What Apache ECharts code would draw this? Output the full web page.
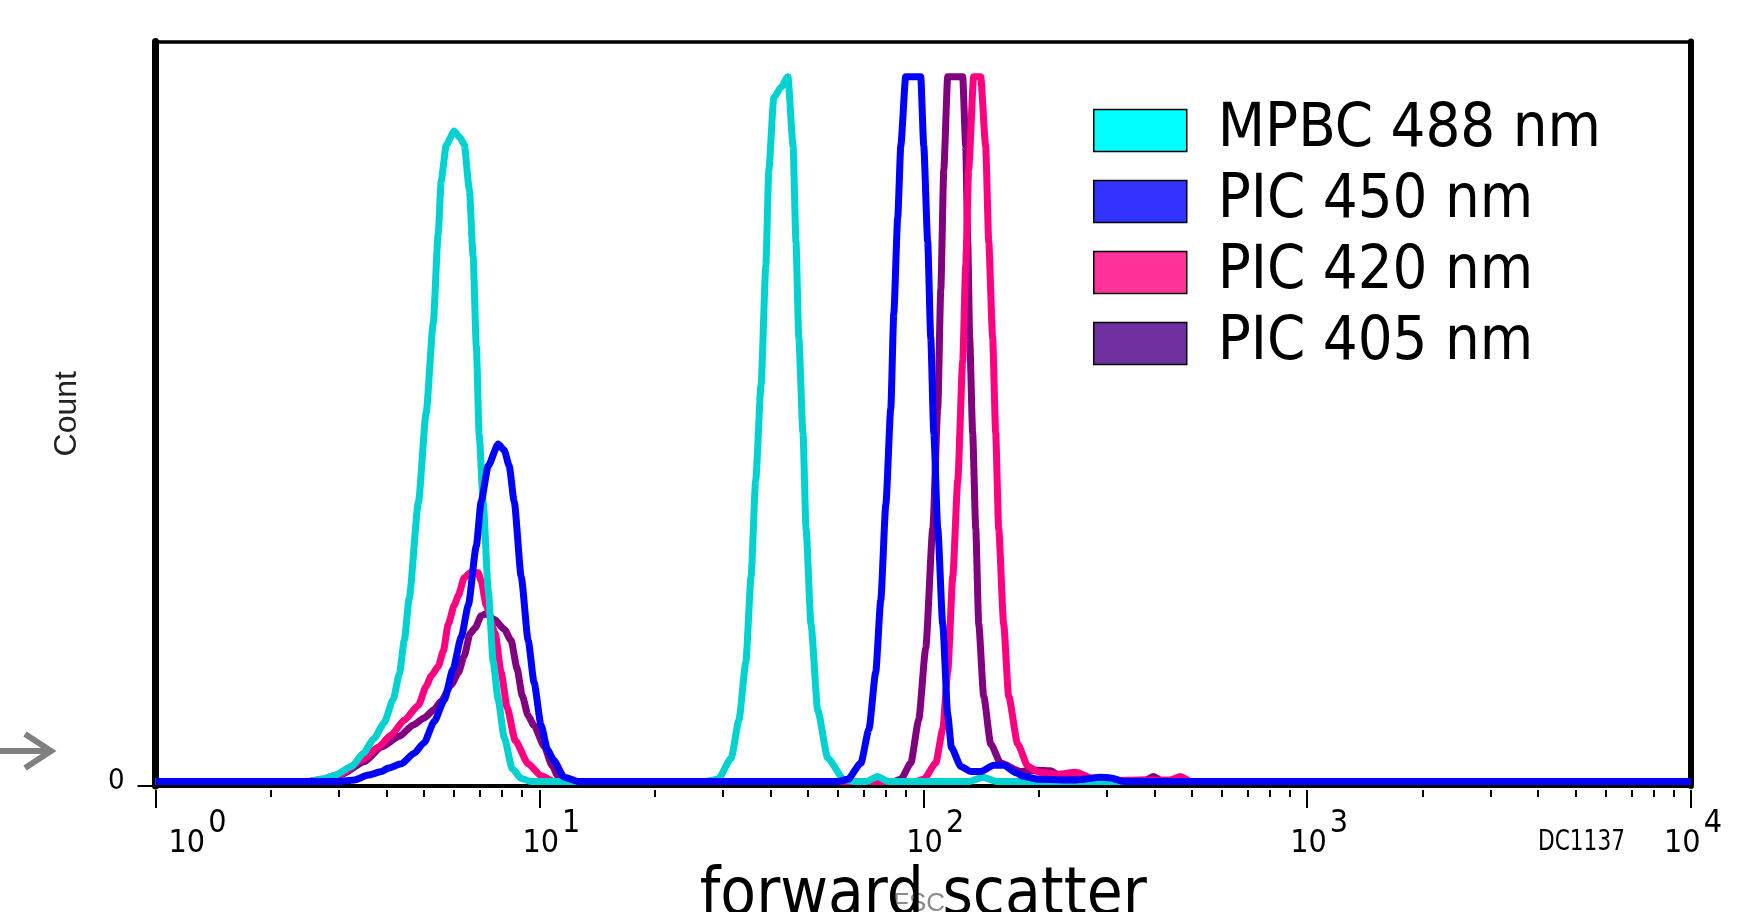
<!DOCTYPE html>
<html>
<head>
<meta charset="utf-8">
<script src="https://cdn.jsdelivr.net/npm/echarts@6/dist/echarts.min.js"></script>
<style>
  html, body { margin: 0; padding: 0; background: #ffffff; }
  #chart { width: 1762px; height: 912px; }
</style>
</head>
<body>
<div id="chart"></div>
<script>
// Forward-scatter histograms: [FSC channel, count] per sample, log FSC scale.
const seriesNames = ['MPBC 488 nm', 'PIC 450 nm', 'PIC 420 nm', 'PIC 405 nm'];
const lineColors = ['#00d2d2', '#0000ff', '#ff0080', '#800080'];
const swatchColors = ['#00ffff', '#3333ff', '#ff3399', '#7030a0'];

const decadeTicks = [1, 10, 100, 1000, 10000];
const minorTicks = [2, 3, 4, 5, 6, 7, 8, 9,
                    20, 30, 40, 50, 60, 70, 80, 90,
                    200, 300, 400, 500, 600, 700, 800, 900,
                    2000, 3000, 4000, 5000, 6000, 7000, 8000, 9000];

const mpbc488 = [
  [1, 0], [2.5, 0], [2.7, 0.3], [2.92, 0.8], [3.24, 2.1], [3.48, 4.0], [3.71, 6.1], [3.94, 8.3],
  [4.16, 11.6], [4.32, 15.3], [4.45, 20.1], [4.58, 26], [4.84, 39.6], [5.07, 52.3], [5.29, 65],
  [5.45, 77.7], [5.55, 85.3], [5.72, 90.3], [6.0, 92.3], [6.2, 91.4], [6.37, 90.4], [6.57, 84],
  [6.72, 74.5], [6.85, 61.8], [6.97, 49.1], [7.14, 39.6], [7.36, 27], [7.58, 17], [7.81, 11.6],
  [8.1, 6.2], [8.5, 1.8], [8.97, 0.4], [9.5, 0],
  [27, 0], [29.2, 0.3], [31.6, 3.3], [33.1, 8.7], [34.5, 16.9], [35.6, 29.1], [36.6, 42.7],
  [37.8, 56.3], [38.9, 73.2], [39.6, 86.8], [40.8, 97], [42.6, 98.5], [44.4, 100], [45.8, 90.2],
  [46.6, 76.6], [47.4, 63], [48.6, 49.5], [49.5, 35.9], [51, 22.3], [53.1, 10.1], [56.4, 3.3],
  [62.1, 0.3], [66, 0], [71, 0], [76, 0.7], [81, 0], [132, 0], [143, 0.6], [155, 0], [10000, 0]
];

const pic450 = [
  [1, 0], [3.0, 0], [3.3, 0.2], [3.58, 0.9], [3.88, 1.4], [4.04, 1.9], [4.37, 2.5], [4.72, 4],
  [5.01, 5.5], [5.32, 8.5], [5.65, 11.5], [5.96, 16], [6.26, 20.5], [6.53, 25], [6.85, 33.4],
  [7.05, 39.7], [7.36, 44.8], [7.81, 47.9], [8.1, 47], [8.34, 44.8], [8.6, 39.7], [8.97, 29],
  [9.35, 20], [9.69, 14], [10.1, 8], [10.5, 4.5], [10.9, 3], [11.6, 0.6], [12.6, 0],
  [60, 0], [63.6, 0.3], [68.8, 2.6], [72.2, 7.4], [75.2, 15.5], [77.5, 25.7], [79.9, 39.3],
  [82.3, 52.9], [83.8, 66.4], [85.8, 80], [87.4, 90.2], [90, 100], [98.5, 100], [100.3, 90.2],
  [102.7, 76.6], [104.6, 63], [106.5, 49.5], [109.1, 35.9], [112.4, 22.3], [115.8, 9.5],
  [118.4, 4.8], [125.3, 2.1], [133, 1.4], [141, 1.4], [152.6, 2.3], [162, 2.3], [175, 1.2],
  [182.6, 0.7], [200, 0.3], [250, 0.2], [290, 0.6], [308, 0.5], [332, 0], [10000, 0]
];

const pic420 = [
  [1, 0], [2.5, 0], [2.7, 0.3], [3.05, 1.1], [3.44, 3], [3.81, 4.9], [4.11, 6.6], [4.45, 8.7],
  [4.84, 10.8], [5.07, 13.5], [5.23, 15], [5.45, 16.3], [5.62, 18.5], [5.79, 22.3], [6.0, 25],
  [6.15, 26.4], [6.37, 28.9], [6.6, 29.6], [6.93, 29.6], [7.05, 28.5], [7.27, 25], [7.67, 21],
  [7.95, 15.5], [8.24, 10.5], [8.65, 5.8], [9.35, 2.5], [10.1, 0.8], [10.9, 0],
  [96, 0], [100.3, 0.3], [107.8, 2.6], [112.4, 7.4], [115.8, 15.5], [119.4, 29.1], [123, 42.7],
  [126.7, 59.6], [129, 73.2], [131.3, 86.8], [135.3, 100], [141.1, 100], [145.4, 90.2],
  [148.1, 76.6], [151.6, 63], [154.4, 49.5], [157.2, 35.9], [162, 22.3], [166.9, 12.1],
  [176.2, 5.3], [187.1, 2.2], [200, 1.3], [225, 1.0], [249.4, 1.3], [277.7, 0.4], [320, 0.1],
  [440, 0.2], [468, 0.7], [497, 0], [10000, 0]
];

const pic405 = [
  [1, 0], [2.5, 0], [2.75, 0.2], [3.05, 1], [3.5, 2.8], [3.88, 4.9], [4.32, 6.4], [4.69, 8],
  [5.01, 9], [5.32, 10.2], [5.55, 11.4], [5.89, 13.7], [6.15, 15.4], [6.37, 17.8], [6.6, 21],
  [6.81, 21.8], [7.05, 23.5], [7.27, 23.8], [7.62, 23], [8.1, 21.6], [8.44, 20], [8.75, 16],
  [9.02, 12.2], [9.35, 9.3], [9.69, 7.9], [10.29, 5], [10.8, 2.2], [11.19, 0.7], [11.6, 0],
  [84, 0], [87.4, 0.3], [92.8, 2.6], [97.3, 8.7], [101.5, 18.9], [105.9, 35.9], [109.1, 52.9],
  [111.1, 69.8], [113.1, 86.8], [115.8, 100], [126.7, 100], [129, 90.2], [130.6, 76.6],
  [132.1, 63], [134.5, 49.5], [137, 35.9], [139.5, 22.3], [143.7, 12.1], [149.9, 5.3],
  [159.1, 2.6], [179.4, 1.4], [198.6, 1.6], [214.7, 1.5], [225, 0.9], [237.7, 0.4], [300, 0.1],
  [380, 0.2], [398, 0.7], [420, 0], [10000, 0]
];

const seriesData = [mpbc488, pic450, pic420, pic405];
// drawing order: violet and pink underneath, cyan and blue on top
const drawOrder = [3, 2, 0, 1];

const FONT_AXIS = '"Liberation Sans", Arial, sans-serif';
const FONT_NARROW = '"Liberation Sans Narrow", "DejaVu Sans Condensed", sans-serif';
const FONT_BIG = '"DejaVu Sans Condensed", "DejaVu Sans", sans-serif';
const X_MIN = 1, X_MAX = 10000;
const Y_MIN = -0.65, Y_MAX = 105;

const chart = echarts.init(document.getElementById('chart'), null, { renderer: 'canvas' });

function decadeLabel(value) {
  const exp = Math.round(Math.log10(value));
  if (exp === 0) return '{b0|10}{s|' + exp + '}';
  if (exp === 4) return '{b|10}{sEnd|' + exp + '}';
  return '{b|10}{s|' + exp + '}';
}

const baseTick = { fontFamily: FONT_NARROW, fontSize: 32, color: '#000', verticalAlign: 'bottom' };
const supTick = { fontFamily: FONT_NARROW, fontSize: 32, color: '#000', verticalAlign: 'top' };

const hiddenLog = {
  type: 'log', logBase: 10, min: X_MIN, max: X_MAX,
  splitLine: { show: false }, minorTick: { show: false }, minorSplitLine: { show: false }
};

const option = {
  animation: false,
  backgroundColor: '#ffffff',
  grid: { left: 155.5, right: 71, top: 41.5, bottom: 126, outerBoundsMode: 'none' },
  legend: {
    orient: 'vertical',
    left: 1093,
    top: 100,
    icon: 'rect',
    itemWidth: 93,
    itemHeight: 42,
    itemGap: 10,
    padding: 0,
    selectedMode: false,
    data: seriesNames.map((n, i) => ({
      name: n,
      itemStyle: { color: swatchColors[i], borderColor: '#000', borderWidth: 1.5 }
    })),
    textStyle: { fontFamily: FONT_BIG, fontSize: 61, color: '#000', padding: [10, 0, 0, 26] }
  },
  xAxis: [
    Object.assign({}, hiddenLog, {
      position: 'bottom',
      axisLine: { show: true, onZero: false, lineStyle: { color: '#000', width: 4 } },
      axisTick: { show: false },
      axisLabel: {
        show: true,
        customValues: decadeTicks,
        margin: 22,
        lineHeight: 52,
        padding: [0, 0, 0, 24],
        formatter: decadeLabel,
        rich: {
          b: baseTick,
          b0: Object.assign({}, baseTick, { padding: [0, 0, 0, 60] }),
          s: Object.assign({}, supTick, { padding: [0, 0, 0, 3] }),
          sEnd: Object.assign({}, supTick, { padding: [0, 20, 0, 3] })
        }
      },
      name: 'forward scatter',
      nameLocation: 'middle',
      nameGap: 78,
      nameTextStyle: { fontFamily: FONT_BIG, fontSize: 65, color: '#000' }
    }),
    Object.assign({}, hiddenLog, {
      position: 'bottom', offset: 4,
      axisLine: { show: false, onZero: false },
      axisTick: { show: true, customValues: minorTicks, length: 7, lineStyle: { color: '#000', width: 2 } },
      axisLabel: { show: false }
    }),
    Object.assign({}, hiddenLog, {
      position: 'bottom', offset: 4,
      axisLine: { show: false, onZero: false },
      axisTick: { show: true, customValues: decadeTicks, length: 18, lineStyle: { color: '#000', width: 2 } },
      axisLabel: { show: false }
    }),
    Object.assign({}, hiddenLog, {
      position: 'top',
      axisLine: { show: true, onZero: false, lineStyle: { color: '#000', width: 3.5 } },
      axisTick: { show: false },
      axisLabel: { show: false }
    })
  ],
  yAxis: [
    {
      type: 'value', min: Y_MIN, max: Y_MAX, position: 'left',
      axisLine: { show: true, onZero: false, lineStyle: { color: '#000', width: 7 } },
      axisTick: { show: true, customValues: [Y_MIN], length: 18, lineStyle: { color: '#000', width: 2 } },
      axisLabel: {
        show: true, customValues: [0], margin: 31, formatter: '0',
        fontFamily: FONT_NARROW, fontSize: 29, color: '#000', padding: [0, 0, 8, 0]
      },
      splitLine: { show: false },
      name: 'Count',
      nameLocation: 'middle',
      nameRotate: 90,
      nameGap: 72,
      nameTextStyle: { fontFamily: FONT_AXIS, fontSize: 32, color: '#222' }
    },
    {
      type: 'value', min: Y_MIN, max: Y_MAX, position: 'right',
      axisLine: { show: true, onZero: false, lineStyle: { color: '#000', width: 6 } },
      axisTick: { show: false }, axisLabel: { show: false }, splitLine: { show: false }
    }
  ],
  series: drawOrder.map((i) => ({
    name: seriesNames[i],
    type: 'line',
    xAxisIndex: 0,
    yAxisIndex: 0,
    data: seriesData[i],
    symbol: 'none',
    showSymbol: false,
    smooth: 0.2,
    smoothMonotone: 'x',
    lineStyle: { color: lineColors[i], width: 7, join: 'round' },
    itemStyle: { color: lineColors[i] },
    emphasis: { disabled: true }
  })),
  graphic: [
    {
      type: 'polyline', z: 5,
      shape: { points: [[0, 751], [52, 751]] },
      style: { stroke: '#808080', lineWidth: 6, fill: null }
    },
    {
      type: 'polyline', z: 5,
      shape: { points: [[25, 734], [51, 751], [25, 768]] },
      style: { stroke: '#808080', lineWidth: 6, fill: null, lineJoin: 'miter' }
    },
    {
      type: 'text', z: 5, x: 1538, y: 829, scaleX: 0.86,
      style: { text: 'DC1137', font: '28px "Liberation Sans Narrow", "DejaVu Sans Condensed", sans-serif', fill: '#000' }
    },
    {
      type: 'text', z: -10, zlevel: 0, x: 893, y: 891,
      style: { text: 'FSC', font: '26px "Liberation Sans", sans-serif', fill: '#8a8a8a' }
    }
  ]
};

chart.setOption(option);
</script>
</body>
</html>
